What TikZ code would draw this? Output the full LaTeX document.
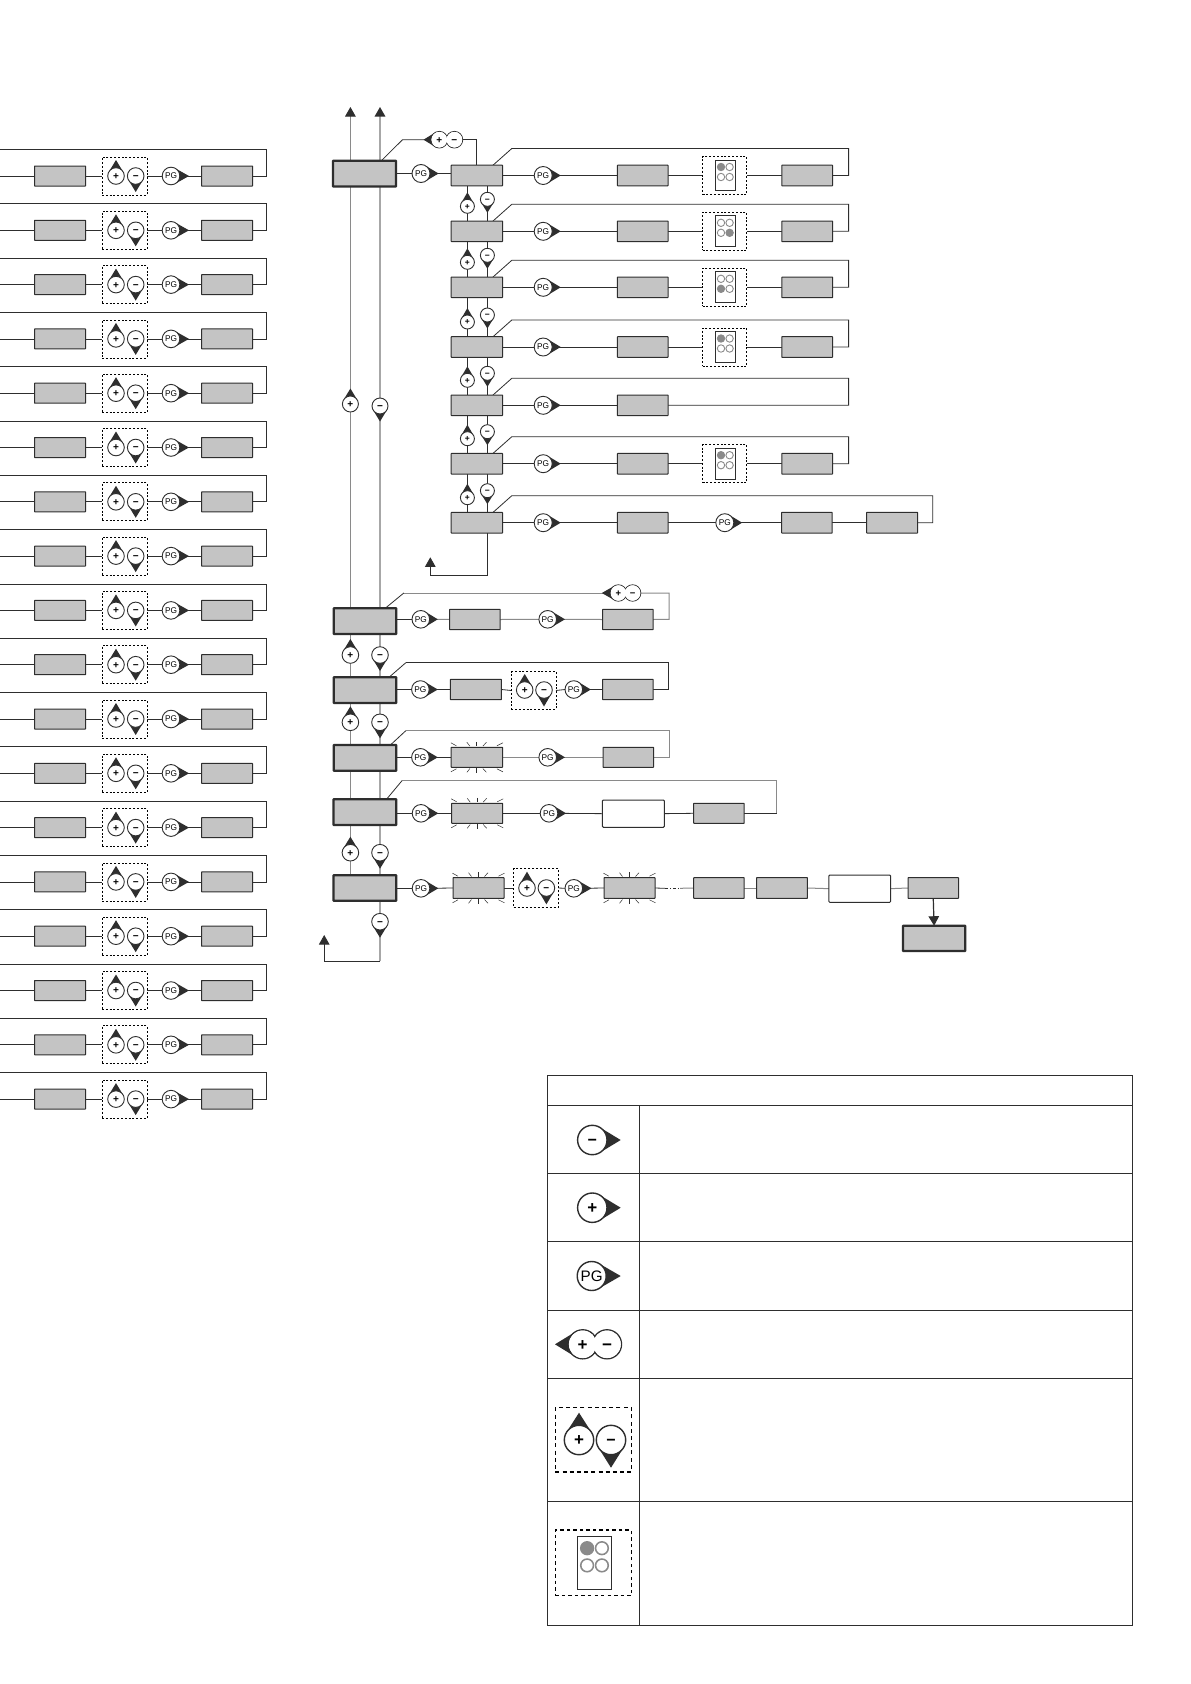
\documentclass[tikz,border=0pt]{standalone}
\usepackage{fontspec}
\setmainfont{Liberation Sans}
\usetikzlibrary{calc,arrows.meta}
\pgfdeclarelayer{bg}
\pgfsetlayers{bg,main}
\definecolor{boxgray}{HTML}{C4C4C4}
\definecolor{ink}{HTML}{2E2E2E}
\definecolor{soft}{HTML}{8A8A8A}
\newcommand{\plusg}{\raisebox{-0.34em}[0pt][0pt]{\textbf{+}}}
\newcommand{\minusg}{\raisebox{-0.34em}[0pt][0pt]{\textbf{−}}}
\tikzset{
  conn/.style={draw=ink,line width=0.8pt},
  gconn/.style={draw=soft,line width=1pt},
  gbox/.style={draw=ink,fill=boxgray,line width=1pt,inner sep=0pt,outer sep=0pt,rounded corners=0.4pt},
  tbox/.style={gbox,line width=2.2pt},
  wbox/.style={gbox,fill=white,draw=ink,line width=1pt,rounded corners=1pt},
  dbox/.style={draw=black,fill=none,inner sep=0pt,outer sep=0pt,line width=0.8pt,dash pattern=on 2pt off 1.8pt},
  dboxb/.style={dbox,line width=1.3pt,dash pattern=on 2.2pt off 1.8pt},
  dboxl/.style={dbox,line width=1.3pt,dash pattern=on 4pt off 3.2pt},
  ledr/.style={draw=ink,fill=white,inner sep=0pt,outer sep=0pt},
  arrowend/.style={-{Triangle[length=9.5pt,width=10.5pt,color=ink,fill=ink]}},
  button/.style={circle,draw=ink,fill=white,inner sep=0pt,outer sep=0pt},
  ray/.style={draw=ink,line width=0.5pt},
  rule/.style={draw=ink,line width=0.9pt},
}
% rectangle from x0..x1, y0..y1
\newcommand{\gbx}[6]{%
  \pgfmathsetmacro\gbw{(#3)-(#2)}\pgfmathsetmacro\gbh{(#5)-(#4)}%
  \pgfmathsetmacro\gcx{((#2)+(#3))/2}\pgfmathsetmacro\gcy{((#4)+(#5))/2}%
  \node[#6,minimum width=\gbw pt,minimum height=\gbh pt] (#1) at (\gcx,\gcy) {};}
% button: name,x,y,r,tip dx,tip dy,font size,text
\newcommand{\btn}[8]{%
  \pgfmathsetmacro\tl{veclen(#5,#6)}\pgfmathsetmacro\ux{(#5)/\tl}\pgfmathsetmacro\uy{(#6)/\tl}%
  \pgfmathsetmacro\ca{(#4)/\tl}\pgfmathsetmacro\sa{sqrt(1-\ca*\ca)}%
  \fill[ink] ({(#2)+(#5)},{(#3)+(#6)})
    -- ({(#2)+(#4)*(\ca*\ux-\sa*\uy)},{(#3)+(#4)*(\ca*\uy+\sa*\ux)})
    -- ({(#2)+(#4)*(\ca*\ux+\sa*\uy)},{(#3)+(#4)*(\ca*\uy-\sa*\ux)}) -- cycle;
  \pgfmathsetmacro\bd{2*(#4)}\pgfmathsetmacro\blw{(#4)>12?1.4:0.9}%
  \node[button,line width=\blw pt,minimum size=\bd pt,font=\fontsize{#7}{#7}\selectfont] (#1) at (#2,#3) {#8};}
% double button: name,x plus,x minus,y,r,apex x,size
\newcommand{\dbl}[7]{%
  \pgfmathsetmacro\tl{(#2)-(#6)}\pgfmathsetmacro\ca{(#5)/\tl}\pgfmathsetmacro\sa{sqrt(1-\ca*\ca)}%
  \fill[ink] (#6,#4) -- ({(#2)-(#5)*\ca},{(#4)-(#5)*\sa}) -- ({(#2)-(#5)*\ca},{(#4)+(#5)*\sa}) -- cycle;
  \pgfmathsetmacro\bd{2*(#5)}\pgfmathsetmacro\blw{(#5)>12?1.4:0.9}\pgfmathsetmacro\rr{(#5)-\blw/2}%
  \node[button,line width=\blw pt,minimum size=\bd pt] (#1p) at (#2,#4) {};
  \node[button,line width=\blw pt,minimum size=\bd pt] (#1m) at (#3,#4) {};
  \fill[white] (#1p) circle[radius=\rr pt] (#1m) circle[radius=\rr pt];
  \node[font=\fontsize{#7}{#7}\selectfont] at (#1p) {\plusg};
  \node[font=\fontsize{#7}{#7}\selectfont] at (#1m) {\minusg};}
% LED panel: name, cx, cy, scale, lit lamp
\newcommand{\ledb}[5]{%
  \pgfmathsetmacro\dw{2*22.1*(#4)}\pgfmathsetmacro\dh{38*(#4)}%
  \pgfmathsetmacro\rw{19.6*(#4)}\pgfmathsetmacro\rh{30.8*(#4)}\pgfmathsetmacro\ld{7.4*(#4)}%
  \pgfmathsetmacro\dshon{2*(#4)}\pgfmathsetmacro\dshoff{1.8*(#4)}\pgfmathsetmacro\dlw{0.8*(#4)}\pgfmathsetmacro\rlw{0.9*(#4)}%
  \pgfmathsetmacro\ix{(#2)+0.7*(#4)}%
  \node[dbox,line width=\dlw pt,dash pattern=on \dshon pt off \dshoff pt,minimum width=\dw pt,minimum height=\dh pt] (#1) at (#2,#3) {};
  \node[ledr,line width=\rlw pt,minimum width=\rw pt,minimum height=\rh pt] (#1r) at (\ix,#3) {};
  \foreach \k/\ddx/\ddy in {1/-4.3/-8.5,2/4.3/-8.5,3/-4.3/1.5,4/4.3/1.5}{%
    \ifnum\k=#5\relax\def\ledf{soft}\else\def\ledf{white}\fi
    \node[circle,draw=soft,fill=\ledf,line width=\rlw pt,inner sep=0pt,outer sep=0pt,minimum size=\ld pt] (#1l\k) at ({\ix+\ddx*(#4)},{(#3)+\ddy*(#4)}) {};}}
% flashing rays round a node
\newcommand{\rays}[1]{%
  \foreach \ancr/\sg in {north/1,south/-1}{%
    \draw[ray,line width=1.1pt] ([shift={(0,{-5.5*\sg})}]#1.\ancr) -- ([shift={(0,{-1*\sg})}]#1.\ancr);
    \draw[ray] ([shift={(-10,{-5*\sg})}]#1.\ancr) -- ([shift={(-7,{-1.2*\sg})}]#1.\ancr);
    \draw[ray] ([shift={(9.5,{-5*\sg})}]#1.\ancr) -- ([shift={(6,{-1.2*\sg})}]#1.\ancr);
    \draw[ray] ([shift={(-26,{-4.5*\sg})}]#1.\ancr) -- ([shift={(-20.5,{-1.5*\sg})}]#1.\ancr);
    \draw[ray] ([shift={(26,{-4.5*\sg})}]#1.\ancr) -- ([shift={(20,{-1.5*\sg})}]#1.\ancr);}}
\begin{document}
\begin{tikzpicture}[x=1pt,y=-1pt]
\useasboundingbox (0,0) rectangle (1191,1684);
\begin{pgfonlayer}{bg}\fill[white] (0,0) rectangle (1191,1684);\end{pgfonlayer}

% ---------- left column, 18 rows
\foreach \i in {0,...,17}{
  \pgfmathsetmacro\cy{176+54.3*\i}
  \gbx{la\i}{34.5}{85.5}{\cy-10}{\cy+10}{gbox}
  \gbx{ld\i}{102}{147}{\cy-19}{\cy+19}{dbox}
  \btn{lp\i}{116}{\cy}{8.3}{0}{-16}{10}{\plusg}
  \btn{lm\i}{135.7}{\cy}{8.3}{0}{16}{10}{\minusg}
  \btn{lg\i}{171}{\cy}{8.8}{18}{0}{8.3}{PG}
  \gbx{lb\i}{201.5}{252.5}{\cy-10}{\cy+10}{gbox}
  \coordinate (ls\i) at (0,\cy);
  \coordinate (lr\i) at (266,\cy);
  \coordinate (lt\i) at (266,\cy-26.5);
  \coordinate (le\i) at (0,\cy-26.5);
  \begin{pgfonlayer}{bg}
    \draw[conn] (ls\i) -- (la\i.west);
    \draw[conn] (la\i.east) -- (ld\i.west);
    \draw[conn] (ld\i.east) -- (lg\i.west);
    \draw[conn] (lg\i.east) -- (lb\i.west);
    \draw[conn] (lb\i.east) -- (lr\i) -- (lt\i) -- (le\i);
  \end{pgfonlayer}
}

% ---------- main column
\gbx{m1}{333}{396}{160.7}{186.4}{tbox}
\gbx{m2}{333.8}{396.3}{608.3}{634}{tbox}
\gbx{m3}{333.8}{396.3}{677.3}{703}{tbox}
\gbx{m4}{333.8}{396.3}{745}{770.7}{tbox}
\gbx{m5}{333.5}{396.2}{799.3}{825}{tbox}
\gbx{m6}{333.5}{396.2}{875.3}{900.7}{tbox}
\coordinate (upa) at (350.4,107);
\coordinate (upb) at (380,107);
\btn{bp1}{350.4}{404}{8}{0}{-15.5}{10}{\plusg}
\btn{bm1}{380}{406}{8}{0}{15.5}{10}{\minusg}
\btn{bp2}{350.4}{655}{8.3}{0}{-16}{10}{\plusg}
\btn{bm2}{380}{655}{8.3}{0}{16}{10}{\minusg}
\btn{bp3}{350.4}{722.3}{8.3}{0}{-16}{10}{\plusg}
\btn{bm3}{380}{722.3}{8.3}{0}{16}{10}{\minusg}
\btn{bp5}{350.4}{852.7}{8.3}{0}{-16}{10}{\plusg}
\btn{bm5}{380}{852.7}{8.3}{0}{16}{10}{\minusg}
\btn{bm6}{380}{921.7}{8.3}{0}{16}{10}{\minusg}
\coordinate (ex1) at (380,961.3);
\coordinate (ex2) at (324.2,961.3);
\coordinate (ex3) at (324.2,935);
\begin{pgfonlayer}{bg}
  \draw[draw=soft,line width=0.9pt,arrowend] (upa |- m1.north) -- (upa);
  \draw[draw=soft!75!white,line width=1.4pt,arrowend] (upb |- m1.north) -- (upb);
  \draw[draw=soft,line width=0.9pt] (bp1 |- m1.south) -- (bp1 |- m2.north);
  \draw[draw=soft!75!white,line width=1.4pt] (bm1 |- m1.south) -- (bm1 |- m2.north);
  \draw[draw=soft,line width=0.9pt] (bp2 |- m2.south) -- (bp2 |- m3.north);
  \draw[draw=soft!75!white,line width=1.4pt] (bm2 |- m2.south) -- (bm2 |- m3.north);
  \draw[draw=soft,line width=0.9pt] (bp3 |- m3.south) -- (bp3 |- m4.north);
  \draw[draw=soft!75!white,line width=1.4pt] (bm3 |- m3.south) -- (bm3 |- m4.north);
  \draw[draw=soft,line width=0.9pt] (bp3 |- m4.south) -- (bp3 |- m5.north);
  \draw[draw=soft!75!white,line width=1.4pt] (bm3 |- m4.south) -- (bm3 |- m5.north);
  \draw[draw=soft,line width=0.9pt] (bp5 |- m5.south) -- (bp5 |- m6.north);
  \draw[draw=soft!75!white,line width=1.4pt] (bm5 |- m5.south) -- (bm5 |- m6.north);
  \draw[draw=soft!75!white,line width=1.4pt] (bm6 |- m6.south) -- (ex1);
  \draw[conn,arrowend] (ex1) -- (ex2) -- (ex3);
\end{pgfonlayer}

% ---------- first main row and the seven sub rows
\btn{g0}{421}{173.5}{9}{17.6}{0}{8.3}{PG}
\dbl{d0}{439.3}{454.4}{139.7}{8.3}{423.5}{10}
\coordinate (t1) at (381.4,160.7);
\coordinate (t2) at (402.5,139.7);
\coordinate (t3) at (476.8,139.7);
\coordinate (t4) at (476.8,165);
\begin{pgfonlayer}{bg}
  \draw[conn] (t1) -- (t2) -- (d0p.west);
  \draw[conn] (d0m.east) -- (t3) -- (t4);
  \draw[conn] (m1.east |- g0) -- (g0.west);
\end{pgfonlayer}

\foreach \n/\cy in {1/175.5,2/231.3,3/287.3,4/347,5/405.3,6/463.7,7/522.7}{
  \gbx{s\n}{451.2}{502.5}{\cy-10.3}{\cy+10.3}{gbox}
  \btn{p\n}{543.2}{\cy}{9}{17.5}{0}{8.3}{PG}
  \gbx{b\n}{617.4}{668}{\cy-10.3}{\cy+10.3}{gbox}
  \coordinate (sa\n) at (493,\cy-10.3);
  \coordinate (sb\n) at (511.8,\cy-27);
  \begin{pgfonlayer}{bg}
    \draw[conn] (s\n.east) -- (p\n.west);
    \draw[conn] (p\n.east) -- (b\n.west);
  \end{pgfonlayer}
}
\begin{pgfonlayer}{bg}\draw[conn] (g0.east) -- (s1.west |- g0);\end{pgfonlayer}

\foreach \n/\o/\cy in {2/1/231.3,3/2/287.3,4/3/347,5/4/405.3,6/5/463.7,7/6/522.7}{
  \btn{pp\n}{467.4}{\cy-25}{7}{0}{-14}{8.5}{\plusg}
  \btn{mm\n}{487.4}{\cy-32}{7}{0}{13.5}{8.5}{\minusg}
  \begin{pgfonlayer}{bg}
    \draw[conn] (pp\n |- s\o.south) -- (pp\n |- s\n.north);
    \draw[conn] (mm\n |- s\o.south) -- (mm\n |- s\n.north);
  \end{pgfonlayer}
}

% rows with a lamp panel
\foreach \n/\cy/\lit in {1/175.5/1,2/231.3/4,3/287.3/3,4/347/1,6/463.7/1}{
  \ledb{q\n}{724.6}{\cy}{1}{\lit}
  \gbx{c\n}{781.8}{832.6}{\cy-10.3}{\cy+10.3}{gbox}
  \coordinate (sc\n) at (848.6,\cy-27);
  \coordinate (sd\n) at (848.6,\cy);
  \begin{pgfonlayer}{bg}
    \draw[conn] (b\n.east) -- (q\n.west);
    \draw[conn] (q\n.east) -- (c\n.west);
    \draw[conn] (c\n.east) -- (sd\n) -- (sc\n) -- (sb\n) -- (sa\n);
  \end{pgfonlayer}
}
% row 5
\coordinate (sc5) at (848.6,378.3);
\coordinate (sd5) at (848.6,405.3);
\begin{pgfonlayer}{bg}
  \draw[conn] (b5.east) -- (sd5) -- (sc5) -- (sb5) -- (sa5);
\end{pgfonlayer}
% row 7
\btn{p7b}{724.8}{522.7}{9}{17.3}{0}{8.3}{PG}
\gbx{c7}{781.6}{832.2}{512.4}{533}{gbox}
\gbx{e7}{866.6}{917.6}{512.4}{533}{gbox}
\coordinate (sc7) at (932.7,495.7);
\coordinate (sd7) at (932.7,522.7);
\coordinate (x1) at (487.4,575.3);
\coordinate (x2) at (430.3,575.3);
\coordinate (x3) at (430.3,557.3);
\begin{pgfonlayer}{bg}
  \draw[conn] (b7.east) -- (p7b.west);
  \draw[conn] (p7b.east) -- (c7.west);
  \draw[conn] (c7.east) -- (e7.west);
  \draw[conn] (e7.east) -- (sd7) -- (sc7) -- (sb7) -- (sa7);
  \draw[conn,arrowend] (mm7 |- s7.south) -- (x1) -- (x2) -- (x3);
\end{pgfonlayer}

% ---------- main row 2
\btn{g2}{420.8}{619.3}{8.8}{17}{0}{8.3}{PG}
\gbx{n2a}{449.6}{500}{609.3}{629.7}{gbox}
\btn{h2}{547.7}{619.3}{8.8}{17.3}{0}{8.3}{PG}
\gbx{n2b}{602.6}{653.2}{609.3}{629.7}{gbox}
\dbl{d2}{618.4}{632.6}{593}{8.2}{601.8}{9.5}
\coordinate (u1) at (385.2,608.3);
\coordinate (u2) at (403.8,593);
\coordinate (u3) at (669,593);
\coordinate (u4) at (669,619.3);
\begin{pgfonlayer}{bg}
  \draw[conn] (m2.east |- g2) -- (g2.west);
  \draw[gconn] (g2.east) -- (n2a.west);
  \draw[gconn] (n2a.east) -- (h2.west);
  \draw[gconn] (h2.east) -- (n2b.west);
  \draw[gconn] (n2b.east) -- (u4) -- (u3) -- (d2m.east);
  \draw[gconn] (d2p.west) -- (u2);
  \draw[conn] (u2) -- (u1);
\end{pgfonlayer}

% ---------- main row 3
\btn{g3}{420.4}{689.5}{8.8}{17.4}{0}{8.3}{PG}
\gbx{n3a}{450.4}{501.4}{679.3}{699.7}{gbox}
\gbx{n3d}{511.3}{556}{671.7}{709.3}{dbox}
\btn{n3p}{524.7}{690}{8.3}{0}{-16}{10}{\plusg}
\btn{n3m}{544}{690}{8.3}{0}{16.5}{10}{\minusg}
\btn{h3}{573.8}{689.5}{8.8}{17}{0}{8.3}{PG}
\gbx{n3b}{602.6}{653.2}{679.3}{699.7}{gbox}
\coordinate (v1) at (389,677.3);
\coordinate (v2) at (405.8,662.7);
\coordinate (v3) at (668.8,662.7);
\coordinate (v4) at (668.8,689.5);
\begin{pgfonlayer}{bg}
  \draw[conn] (m3.east |- g3) -- (g3.west);
  \draw[conn] (g3.east) -- (n3a.west);
  \draw[conn] (n3a.east) -- (n3d.west);
  \draw[conn] (n3d.east) -- (h3.west);
  \draw[conn] (h3.east) -- (n3b.west);
  \draw[conn] (n3b.east) -- (v4) -- (v3) -- (v2);
  \draw[conn] (v2) -- (v1);
\end{pgfonlayer}

% ---------- main row 4
\btn{g4}{420.4}{757.3}{8.8}{17.4}{0}{8.3}{PG}
\gbx{n4a}{451.2}{502.6}{747.3}{767.3}{gbox}
\rays{n4a}
\btn{h4}{547.7}{757.3}{8.8}{17.3}{0}{8.3}{PG}
\gbx{n4b}{603}{653.6}{747.3}{767.3}{gbox}
\coordinate (w1) at (390.4,745);
\coordinate (w2) at (405.8,730.7);
\coordinate (w3) at (669.4,730.7);
\coordinate (w4) at (669.4,757.3);
\begin{pgfonlayer}{bg}
  \draw[conn] (m4.east |- g4) -- (g4.west);
  \draw[conn] (g4.east) -- (n4a.west);
  \draw[gconn] (n4a.east) -- (h4.west);
  \draw[gconn] (h4.east) -- (n4b.west);
  \draw[gconn] (n4b.east) -- (w4) -- (w3) -- (w2);
  \draw[conn] (w2) -- (w1);
\end{pgfonlayer}

% ---------- main row 5
\btn{g5}{421}{813.3}{8.8}{17.3}{0}{8.3}{PG}
\gbx{n5a}{451.7}{502.7}{803.3}{823.3}{gbox}
\rays{n5a}
\btn{h5}{549}{813.3}{8.8}{17}{0}{8.3}{PG}
\gbx{n5w}{602.4}{664.3}{800}{827.3}{wbox}
\gbx{n5b}{693.7}{744.2}{803.3}{823.3}{gbox}
\coordinate (y1) at (386.5,799.3);
\coordinate (y2) at (402,780.7);
\coordinate (y3) at (776.6,780.7);
\coordinate (y4) at (776.6,813.3);
\begin{pgfonlayer}{bg}
  \draw[conn] (m5.east |- g5) -- (g5.west);
  \draw[conn] (g5.east) -- (n5a.west);
  \draw[conn] (n5a.east) -- (h5.west);
  \draw[conn] (h5.east) -- (n5w.west);
  \draw[conn] (n5w.east) -- (n5b.west);
  \draw[conn] (n5b.east) -- (y4);
  \draw[gconn] (y4) -- (y3) -- (y2);
  \draw[conn] (y2) -- (y1);
\end{pgfonlayer}

% ---------- main row 6
\btn{g6}{421}{888.3}{8.8}{17.3}{0}{8.3}{PG}
\gbx{n6a}{453}{504}{877.7}{898.3}{gbox}
\rays{n6a}
\gbx{n6d}{513.6}{558.6}{868.7}{907.3}{dboxb}
\btn{n6p}{527}{888}{8.3}{0}{-16.3}{10}{\plusg}
\btn{n6m}{546.4}{888}{8.3}{0}{16.3}{10}{\minusg}
\btn{h6}{573.8}{888.3}{8.8}{17.7}{0}{8.3}{PG}
\gbx{n6b}{604}{655}{877.7}{898.3}{gbox}
\rays{n6b}
\gbx{n6c}{693.7}{744.2}{877.7}{898.3}{gbox}
\gbx{n6e}{756.5}{807.4}{877.7}{898.3}{gbox}
\gbx{n6w}{828.8}{890.7}{875}{902.3}{wbox}
\gbx{n6f}{908}{958.5}{877.7}{898.3}{gbox}
\gbx{fin}{903}{965.2}{925.7}{951}{tbox}
\coordinate (z1) at (665,888.3);
\coordinate (z2) at (680,888.3);
\begin{pgfonlayer}{bg}
  \draw[conn] (m6.east |- g6) -- (g6.west);
  \draw[conn] (g6.east) -- (n6a.west);
  \draw[conn] (n6a.east) -- (n6d.west);
  \draw[conn] (n6d.east) -- (h6.west);
  \draw[conn] (h6.east) -- (n6b.west);
  \draw[conn] (n6b.east) -- (z1);
  \draw[conn,dash pattern=on 3pt off 2pt on 1pt off 2pt] (z1) -- (z2);
  \draw[gconn] (z2) -- (n6c.west);
  \draw[gconn] (n6c.east) -- (n6e.west);
  \draw[gconn] (n6e.east) -- (n6w.west);
  \draw[gconn] (n6w.east) -- (n6f.west);
  \draw[conn,line width=1.2pt,arrowend] (n6f.south) -- (fin.north);
\end{pgfonlayer}

% ---------- legend table
\draw[rule] (547.3,1075.3) rectangle (1132,1625.3);
\draw[rule] (547.3,1105.3) -- (1132,1105.3);
\foreach \yy in {1173.3,1241.3,1310,1378.3,1501.3}{\draw[rule] (547.3,\yy) -- (1132,\yy);}
\draw[rule] (639.3,1105.3) -- (639.3,1625.3);
\btn{k1}{592.3}{1140}{14.7}{28.4}{0}{16}{\minusg}
\btn{k2}{592.3}{1207.7}{14.7}{28.4}{0}{17}{\plusg}
\btn{k3}{591.7}{1276}{14.5}{29}{0}{15.2}{PG}
\dbl{k4}{582.7}{607}{1344.3}{14.5}{555}{17}
\gbx{k5}{555.3}{631.3}{1407.7}{1472}{dboxl}
\btn{k5p}{579}{1440}{14.7}{0}{-27.3}{17}{\plusg}
\btn{k5m}{611}{1440}{14.7}{0}{27.7}{16}{\minusg}
\ledb{k6}{593.3}{1562.8}{1.72}{1}
\end{tikzpicture}
\end{document}
